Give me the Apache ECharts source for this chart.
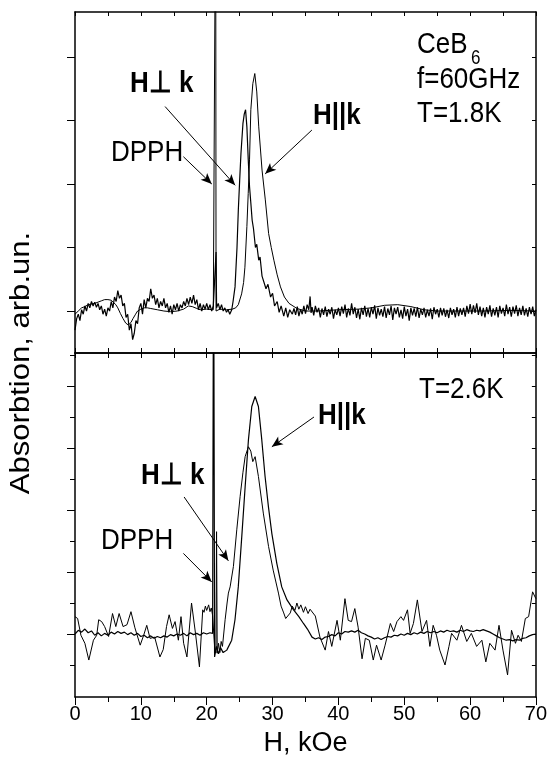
<!DOCTYPE html>
<html>
<head>
<meta charset="utf-8">
<script src="https://cdn.jsdelivr.net/npm/echarts@6/dist/echarts.min.js"></script>
<style>html,body{margin:0;padding:0;background:#fff}#c{width:550px;height:762px}</style>
</head>
<body>
<div id="c"></div>
<script>
// ---- data (H in kOe, absorption in arb. units) ----
const xTickLabels = [0, 10, 20, 30, 40, 50, 60, 70];
const topYTicks = [0, 1, 2, 3, 4];
const botYMajor = [0, 1, 2, 3, 4];
const botYMinor = [-0.5, 0.5, 1.5, 2.5, 3.5, 4.5];

// T = 1.8 K, H perpendicular k (noisy)
const top18Perp = [
[0,-0.3],[0.25,-0.12],[0.5,-0.05],[0.75,-0.15],[1,0.02],[1.25,-0.05],[1.5,0.08],[1.75,0.0],[2,0.12],[2.25,0.05],[2.5,0.15],[2.75,0.08],[3,0.14],[3.25,0.06],[3.5,0.12],[3.75,0.02],[4,0.08],[4.25,-0.05],[4.5,0.03],[4.75,-0.08],[5,0.05],[5.25,0.0],[5.5,0.15],[5.75,0.05],[6,0.22],[6.25,0.15],[6.5,0.32],[6.75,0.2],[7,0.25],[7.25,0.08],[7.5,0.12],[7.75,-0.1],[8,-0.05],[8.25,-0.3],[8.5,-0.2],[8.75,-0.45],[9,-0.35],[9.25,-0.15],[9.5,-0.2],[9.75,0.05],[10,0.12],[10.25,-0.05],[10.5,0.18],[10.75,0.05],[11,0.2],[11.25,0.15],[11.5,0.35],[11.75,0.2],[12,0.25],[12.25,0.1],[12.5,0.2],[12.75,0.05],[13,0.15],[13.25,0.08],[13.5,0.2],[13.75,0.05],[14,0.12],[14.25,-0.02],[14.5,0.08],[14.75,-0.05],[15,0.1],[15.25,0.02],[15.5,0.12],[15.75,0.0],[16,0.1],[16.25,0.05],[16.5,0.15],[16.75,0.08],[17,0.2],[17.25,0.1],[17.5,0.22],[17.75,0.12],[18,0.25],[18.25,0.1],[18.5,0.18],[18.75,0.02],[19,0.12],[19.25,0.0],[19.5,0.1],[19.75,0.03],[20,0.12],[20.25,0.02],[20.5,0.1],[20.75,0.0],[21,0.08],[21.25,0.05],[21.42,0.93],[21.5,0.05],[21.75,0.12],[22,0.02],[22.25,0.1],[22.5,0.0],[22.75,0.05],[23,-0.02],[23.25,0.02],[23.5,-0.05],[23.8,0.02],
[24,0.15],[24.3,0.38],[24.6,1.0],[24.8,1.59],[25,2.05],[25.2,2.48],[25.5,2.95],[25.7,3.1],[25.9,3.17],[26.1,2.9],[26.3,2.4],[26.5,1.96],[26.7,1.7],[26.9,1.43],[27.1,1.3],[27.4,1.0],[27.6,1.05],[27.9,0.8],[28.1,0.85],[28.4,0.55],[28.7,0.55],[29,0.35],[29.3,0.42],[29.7,0.22],[30,0.28],[30.3,0.08],[30.7,0.15],[31,-0.02],[31.3,0.08],[31.7,-0.08],[32,0.05],[32.3,-0.1],[32.6,0.02],[33,-0.05],
[33.25,0.04],[33.5,-0.06],[33.75,0.07],[34,-0.08],[34.25,0.03],[34.5,-0.05],[34.75,0.08],[35,-0.04],[35.25,0.1],[35.5,0.02],[35.7,0.23],[35.85,-0.03],[36,0.06],[36.25,-0.07],[36.5,0.08],[36.75,-0.02],[37,0.05],[37.25,-0.1],[37.5,0.04],[37.75,-0.06],[38,0.07],[38.25,-0.09],[38.5,0.03],[38.75,-0.05],[39,0.06],[39.25,-0.12],[39.5,0.02],[39.75,-0.06],[40,0.05],[40.25,-0.08],[40.5,0.07],[40.75,-0.04],[41,0.1],[41.25,-0.1],[41.5,0.04],[41.75,-0.07],[42,0.12],[42.25,-0.05],[42.5,0.06],[42.75,-0.11],[43,0.03],[43.25,-0.13],[43.5,0.05],[43.75,-0.06],[44,0.08],[44.25,-0.09],[44.5,0.04],[44.75,-0.1],[45,0.06],[45.25,-0.05],[45.5,0.09],[45.75,-0.12],[46,0.05],[46.25,-0.07],[46.5,0.03],[46.75,-0.09],[47,0.07],[47.25,-0.11],[47.5,0.04],[47.75,-0.06],[48,0.08],[48.25,-0.14],[48.5,0.05],[48.75,-0.05],[49,0.06],[49.25,-0.1],[49.5,0.02],[49.75,-0.12],[50,0.07],[50.25,-0.08],[50.5,0.03],[50.75,-0.15],[51,0.05],[51.25,-0.07],[51.5,0.04],[51.75,-0.09],[52,0.06],[52.25,-0.11],[52.5,0.03],[52.75,-0.06],[53,0.05],[53.25,-0.1],[53.5,0.02],[53.75,-0.08],[54,0.04],[54.25,-0.13],[54.5,0.06],[54.75,-0.05],[55,0.03],[55.25,-0.1],[55.5,0.05],[55.75,-0.07],[56,0.04],[56.25,-0.09],[56.5,0.02],[56.75,-0.11],[57,0.05],[57.25,-0.06],[57.5,0.03],[57.75,-0.1],[58,0.06],[58.25,-0.08],[58.5,0.04],[58.75,-0.06],[59,0.05],[59.25,-0.09],[59.5,0.08],[59.75,-0.04],[60,0.11],[60.25,-0.05],[60.5,0.09],[60.75,-0.03],[61,0.12],[61.25,-0.06],[61.5,0.07],[61.75,-0.08],[62,0.05],[62.25,-0.1],[62.5,0.06],[62.75,-0.05],[63,0.09],[63.25,-0.09],[63.5,0.04],[63.75,-0.07],[64,0.06],[64.25,-0.1],[64.5,0.08],[64.75,-0.04],[65,0.05],[65.25,-0.08],[65.5,0.1],[65.75,-0.05],[66,0.06],[66.25,-0.09],[66.5,0.07],[66.75,-0.04],[67,0.09],[67.25,-0.08],[67.5,0.05],[67.75,-0.06],[68,0.08],[68.25,-0.07],[68.5,0.04],[68.75,-0.09],[69,0.06],[69.25,-0.05],[69.5,0.07],[69.75,-0.08],[70,0.02]
];

// T = 1.8 K, H parallel k (smooth, DPPH off scale)
const top18Par = [
[0,-0.05],[0.5,0.0],[1,0.05],[1.5,0.07],[2,0.1],[2.5,0.11],[3,0.12],[3.5,0.14],[4,0.16],[4.5,0.18],[5,0.18],[5.5,0.17],[5.8,0.15],[6.2,0.1],[6.5,0.05],[6.9,-0.04],[7.3,-0.12],[7.7,-0.19],[8.1,-0.22],[8.5,-0.18],[8.8,-0.12],[9.2,-0.05],[9.5,0.0],[10,0.03],[10.5,0.05],[11,0.05],[11.5,0.04],[12.5,0.02],[13.5,0.0],[14.5,-0.01],[15.5,0.0],[16.5,0.03],[17.2,0.08],[17.8,0.07],[18.5,0.04],[19,0.02],[20,0.03],[21,0.02],[21.3,0.02],[21.36,7],[21.42,0.0],[22,0.03],[23,0.02],[23.9,0.03],[24.4,0.05],[24.8,0.1],[25.3,0.27],[25.6,0.45],[25.8,0.69],[26.1,1.33],[26.3,1.85],[26.5,2.38],[26.7,3.17],[27.0,3.58],[27.3,3.74],[27.6,3.45],[27.9,2.9],[28.4,2.22],[28.9,1.75],[29.4,1.22],[29.8,1.0],[30.2,0.8],[30.7,0.57],[31.2,0.38],[31.8,0.22],[32.5,0.12],[33.7,0.04],[35,0.0],[37,0.0],[40,0.02],[43,0.03],[45,0.05],[47,0.09],[49,0.1],[51,0.07],[53,0.02],[55,0.0],[58,0.0],[62,0.0],[66,0.01],[70,0.0]
];

// T = 2.6 K, H perpendicular k (wavy baseline)
const bot26Perp = [
[0,0.28],[0.4,0.25],[0.9,-0.02],[1.5,-0.15],[2.1,-0.42],[2.8,-0.1],[3.3,-0.02],[3.6,0.23],[4.05,0.2],[4.5,0.12],[5.1,-0.04],[5.7,0.33],[6.2,0.12],[6.7,0.33],[7.3,0.12],[7.9,0.15],[8.5,0.36],[9.1,0.1],[9.9,-0.18],[10.4,-0.03],[10.9,0.14],[11.4,-0.07],[12.1,-0.05],[12.9,-0.37],[13.4,-0.25],[13.9,0.12],[14.3,0.31],[14.8,0.09],[15.2,0.2],[15.7,-0.1],[16.1,0.28],[16.5,-0.15],[17.0,-0.37],[17.7,0.5],[18.3,0.01],[18.9,-0.53],[19.4,0.39],[19.6,0.35],[19.8,0.45],[20.0,0.38],[20.3,0.47],[20.5,0.36],[20.7,0.42],[20.9,0.3],[21.2,-0.2],[21.4,-0.3],[21.5,1.65],[21.6,-0.31],[21.8,-0.15],[22.0,-0.3],[22.2,-0.12],[22.4,-0.2],[22.8,0.23],[23.1,0.5],[23.3,0.66],[23.56,0.76],[24.06,1.09],[24.57,1.68],[25.08,2.22],[25.5,2.6],[25.84,2.86],[26.34,3.02],[26.7,2.95],[27.0,2.78],[27.36,2.86],[27.86,2.54],[28.6,1.95],[29.4,1.41],[30.1,1.03],[30.9,0.66],[31.3,0.45],[31.7,0.34],[32.0,0.25],[32.3,0.22],[32.7,0.34],[33.0,0.45],[33.4,0.38],[33.7,0.5],[34.0,0.4],[34.3,0.47],[34.7,0.35],[35.0,0.44],[35.4,0.33],[35.7,0.4],[36.5,0.29],[37.2,-0.05],[38,-0.26],[38.5,0.04],[39,-0.2],[39.8,0.22],[40.3,-0.1],[41.0,0.57],[41.5,0.22],[42.0,0.2],[42.5,0.41],[43.0,0.11],[43.6,-0.4],[44.1,-0.07],[44.7,-0.1],[45.3,-0.42],[45.8,-0.18],[46.5,-0.42],[47.1,-0.18],[47.9,0.17],[48.4,0.04],[48.9,0.2],[49.5,0.28],[49.9,0.22],[50.5,0.39],[50.9,0.01],[51.4,0.17],[52.0,0.55],[52.7,0.04],[53.4,0.22],[53.9,-0.2],[54.4,0.14],[54.9,-0.02],[55.4,-0.26],[56.2,-0.5],[56.8,-0.2],[57.2,0.01],[58.0,-0.1],[58.7,0.14],[59.5,-0.12],[60.2,0.01],[61.0,-0.2],[61.8,-0.1],[62.4,-0.45],[63.0,-0.15],[63.8,-0.26],[64.4,0.14],[65.0,-0.26],[65.7,-0.66],[66.3,0.06],[66.9,-0.15],[67.3,-0.02],[67.8,-0.12],[68.4,0.25],[68.9,0.28],[69.5,0.68],[70,0.57]
];

// T = 2.6 K, H parallel k (flat baseline, DPPH off scale)
const bot26Par = [
[0,0.0],[0.5,0.06],[1,0.03],[1.5,0.08],[2,0.02],[2.5,0.05],[3,-0.02],[3.5,0.02],[4,-0.03],[4.5,0.01],[5,-0.02],[5.5,0.03],[6,0.0],[6.5,0.04],[7,0.01],[7.5,0.03],[8,-0.01],[8.5,0.02],[9,-0.02],[9.5,0.01],[10,-0.04],[10.5,-0.02],[11,-0.06],[11.5,-0.03],[12,-0.07],[12.5,-0.04],[13,-0.06],[13.5,-0.03],[14,-0.05],[14.5,-0.01],[15,-0.03],[15.5,0.0],[16,-0.02],[16.5,0.01],[17,-0.03],[17.5,0.02],[18,-0.01],[18.5,0.01],[19,-0.02],[19.5,0.02],[20,0.0],[20.5,0.02],[20.9,0.01],[21.05,7],[21.2,-0.37],[21.5,-0.2],[21.8,-0.32],[22.1,-0.22],[22.5,-0.3],[23.05,-0.26],[23.8,-0.1],[24.3,0.23],[24.8,0.76],[25.33,1.57],[25.84,2.37],[26.34,3.13],[26.85,3.67],[27.36,3.83],[27.86,3.67],[28.37,3.13],[28.87,2.54],[29.38,2.05],[29.9,1.62],[30.65,1.14],[31.4,0.76],[32.2,0.55],[33.2,0.39],[34.0,0.28],[34.7,0.17],[35.3,0.08],[36.0,-0.05],[36.5,-0.08],[37,-0.06],[37.5,-0.09],[38,-0.05],[38.5,-0.04],[39,-0.01],[39.5,-0.03],[40,0.02],[40.5,0.0],[41,0.04],[41.5,0.03],[42,0.05],[42.5,0.03],[43,0.06],[43.5,0.02],[44,0.0],[44.5,-0.03],[45,-0.05],[45.5,-0.08],[46,-0.06],[46.5,-0.09],[47,-0.06],[47.5,-0.04],[48,-0.05],[48.5,-0.02],[49,-0.03],[49.5,0.0],[50,-0.02],[50.5,0.01],[51,-0.01],[51.5,0.02],[52,0.0],[52.5,0.03],[53,0.01],[53.5,0.04],[54,0.02],[54.5,0.04],[55,0.02],[55.5,0.05],[56,0.03],[56.5,0.06],[57,0.04],[57.5,0.05],[58,0.03],[58.5,0.06],[59,0.04],[59.5,0.07],[60,0.05],[60.5,0.04],[61,0.06],[61.5,0.05],[62,0.07],[62.5,0.05],[63,0.03],[63.5,0.0],[64,-0.03],[64.5,-0.06],[65,-0.08],[65.5,-0.1],[66,-0.09],[66.5,-0.11],[67,-0.09],[67.5,-0.1],[68,-0.07],[68.5,-0.06],[69,-0.03],[69.5,-0.01],[70,0.0]
];

// annotation arrows [from, to] in data coordinates
const topArrows = [
  [[16.46, 2.43], [20.77, 2.0]],
  [[13.68, 3.22], [24.32, 1.98]],
  [[35.97, 2.85], [28.88, 2.16]]
];
const botArrows = [
  [[16.46, 1.30], [20.77, 0.84]],
  [[16.57, 2.21], [23.3, 1.18]],
  [[36.3, 3.5], [29.9, 3.02]]
];

// ---- chart ----
const FONT = "'Liberation Sans', Arial, Helvetica, sans-serif";
const chart = echarts.init(document.getElementById('c'), null, {renderer: 'canvas'});
const axLine = {show: true, onZero: false, lineStyle: {color: '#000', width: 1.5}};
const tickStyle = {color: '#000', width: 1};

function xAx(grid, pos, extra) {
  return Object.assign({
    type: 'value', gridIndex: grid, position: pos, min: 0, max: 70, interval: 5,
    axisLine: axLine, splitLine: {show: false},
    axisTick: {show: true, inside: true, length: 5, lineStyle: tickStyle},
    axisLabel: {show: false}
  }, extra || {});
}
function yAx(grid, pos, min, max, ticks, len, inside, showLine) {
  return {
    type: 'value', gridIndex: grid, position: pos, min: min, max: max,
    axisLine: showLine ? axLine : {show: false, onZero: false},
    splitLine: {show: false},
    axisTick: {show: true, inside: inside, length: len, customValues: ticks, lineStyle: tickStyle},
    axisLabel: {show: false}
  };
}
function arrowMark(list) {
  return {
    silent: true, animation: false,
    symbol: ['none', 'arrow'], symbolSize: [7, 11],
    lineStyle: {color: '#000', width: 1, type: 'solid'},
    label: {show: false},
    emphasis: {disabled: true},
    data: list.map(a => [{coord: a[0]}, {coord: a[1]}])
  };
}
function line(data, xi, yi, w, mark) {
  const s = {
    type: 'line', data: data, xAxisIndex: xi, yAxisIndex: yi,
    showSymbol: false, symbol: 'none', clip: true, animation: false,
    lineStyle: {color: '#000', width: w}
  };
  if (mark) s.markLine = mark;
  return s;
}
function txt(t, x, y, size, bold, align) {
  return {
    type: 'text', x: x, y: y, scaleY: 1.15,
    style: {text: t, fill: '#000', fontSize: size, fontFamily: FONT,
      fontWeight: bold ? 'bold' : 'normal',
      align: align || 'left', verticalAlign: 'middle',
      textAlign: align || 'left', textVerticalAlign: 'middle'}
  };
}

const option = {
  animation: false,
  backgroundColor: '#fff',
  grid: [
    {left: 75, right: 14, top: 12, height: 341},
    {left: 75, right: 14, top: 353, height: 344}
  ],
  xAxis: [
    xAx(0, 'bottom'),
    xAx(0, 'top', {axisTick: {show: true, inside: true, length: 4, lineStyle: tickStyle}}),
    xAx(1, 'bottom', {
      interval: 10,
      axisTick: {show: true, inside: false, length: 8, lineStyle: tickStyle},
      minorTick: {show: true, splitNumber: 2, length: 5, lineStyle: tickStyle},
      axisLabel: {show: true, color: '#000', fontSize: 20, fontFamily: FONT, margin: 7,
        formatter: v => (xTickLabels.indexOf(v) >= 0 ? String(v) : '')},
      name: 'H, kOe', nameLocation: 'middle', nameGap: 47,
      nameTextStyle: {color: '#000', fontSize: 27, fontFamily: FONT, verticalAlign: 'middle'}
    }),
    xAx(1, 'top')
  ],
  yAxis: [
    yAx(0, 'left', -0.661, 4.709, topYTicks, 8, false, true),
    yAx(0, 'right', -0.661, 4.709, topYTicks, 4, true, true),
    yAx(1, 'left', -1.016, 4.532, botYMajor, 8, false, true),
    yAx(1, 'left', -1.016, 4.532, botYMinor, 5, false, false),
    yAx(1, 'right', -1.016, 4.532, botYMajor.concat(botYMinor), 4, true, true)
  ],
  series: [
    line(top18Par, 0, 0, 1, arrowMark(topArrows)),
    line(top18Perp, 0, 0, 1.2),
    line(bot26Par, 2, 2, 1.2, arrowMark(botArrows)),
    line(bot26Perp, 2, 2, 1)
  ],
  graphic: [
    txt('H\u22A5 k', 130, 84, 26, true),
    txt('DPPH', 111, 153, 26, false),
    txt('H||k', 313, 116, 26, true),
    txt('CeB', 417, 45, 26, false),
    txt('6', 471, 59, 17, false),
    txt('f=60GHz', 417, 80, 26, false),
    txt('T=1.8K', 417, 114, 26, false),
    txt('T=2.6K', 419, 390, 26, false),
    txt('H||k', 318, 416, 26, true),
    txt('H\u22A5 k', 141, 476, 26, true),
    txt('DPPH', 101, 541, 26, false),
    {
      type: 'text', x: 22, y: 363, rotation: Math.PI / 2, scaleX: 1.15,
      style: {text: 'Absorbtion, arb.un.', fill: '#000', fontSize: 27, fontFamily: FONT,
        align: 'center', verticalAlign: 'middle', textAlign: 'center', textVerticalAlign: 'middle'}
    }
  ]
};
chart.setOption(option);
</script>
</body>
</html>
